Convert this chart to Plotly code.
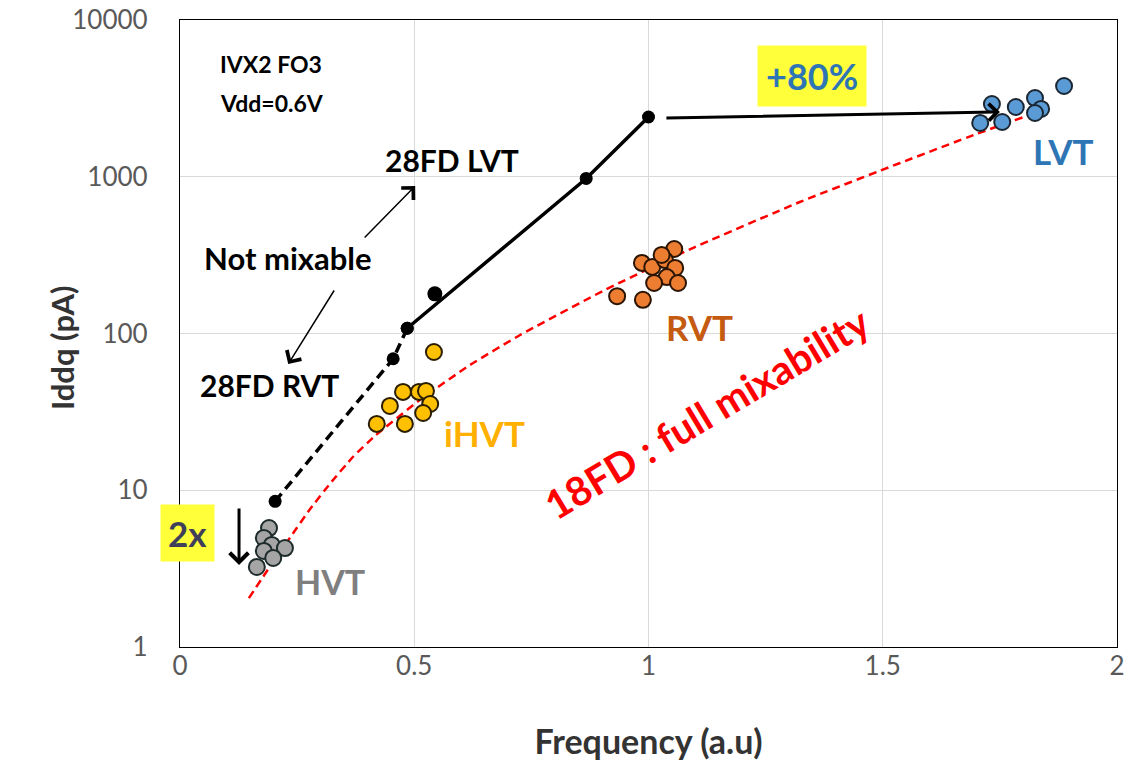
import plotly.graph_objects as go
import math

# ---- data ----
hvt_x = [0.190, 0.179, 0.196, 0.224, 0.179, 0.199, 0.164]
hvt_y = [5.74, 4.96, 4.48, 4.28, 4.10, 3.70, 3.24]

ihvt_x = [0.542, 0.476, 0.510, 0.525, 0.448, 0.534, 0.519, 0.420, 0.480]
ihvt_y = [76.2, 42.4, 42.4, 43.0, 34.5, 35.5, 31.1, 26.5, 26.5]

rvt_x = [0.986, 1.008, 1.055, 1.035, 1.028, 1.057, 1.039, 1.012, 1.063, 0.933, 0.988]
rvt_y = [282, 266, 346, 294, 317, 262, 229, 210, 210, 173, 164]

lvt_x = [1.733, 1.784, 1.825, 1.838, 1.825, 1.755, 1.708, 1.887]
lvt_y = [2911, 2786, 3177, 2706, 2551, 2235, 2203, 3793]

fd28_dash_x = [0.203, 0.455, 0.485]
fd28_dash_y = [8.5, 69, 108]
fd28_solid_x = [0.485, 0.867, 1.0]
fd28_solid_y = [108, 975, 2406]
fd28_extra_x = [0.544]
fd28_extra_y = [179]

fd18_x = [0.147, 0.192, 0.235, 0.277, 0.320, 0.369, 0.416, 0.512, 0.619, 0.726,
          0.903, 1.099, 1.323, 1.537, 1.697, 1.825, 1.853]
fd18_y = [2.05, 3.26, 4.99, 7.54, 11.0, 16.3, 22.2, 37.7, 63.0, 97.8,
          187, 356, 690, 1224, 1860, 2551, 2725]

x_ticks = [0, 0.5, 1, 1.5, 2]
x_tick_labels = ["0", "0.5", "1", "1.5", "2"]
y_ticks = [1, 10, 100, 1000, 10000]
y_tick_labels = ["1", "10", "100", "1000", "10000"]

FONT = "Lato"
L = math.log10

fig = go.Figure()

fig.add_trace(go.Scatter(x=fd18_x, y=fd18_y, mode="lines",
                         line=dict(color="#FF0000", width=2.5, dash="8px,5px",
                                   shape="spline", smoothing=0.4),
                         showlegend=False, hoverinfo="skip"))
fig.add_trace(go.Scatter(x=fd28_dash_x, y=fd28_dash_y, mode="lines+markers",
                         line=dict(color="black", width=3.5, dash="10px,6px"),
                         marker=dict(color="black", size=13),
                         showlegend=False))
fig.add_trace(go.Scatter(x=fd28_solid_x, y=fd28_solid_y, mode="lines+markers",
                         line=dict(color="black", width=3.5),
                         marker=dict(color="black", size=13),
                         showlegend=False))
fig.add_trace(go.Scatter(x=fd28_extra_x, y=fd28_extra_y, mode="markers",
                         marker=dict(color="black", size=15),
                         showlegend=False))

def cluster(xs, ys, fill, edge):
    fig.add_trace(go.Scatter(x=xs, y=ys, mode="markers",
                             marker=dict(color=fill, size=16,
                                         line=dict(color=edge, width=2)),
                             showlegend=False))

cluster(hvt_x, hvt_y, "#A5A5A5", "#1E2B2B")
cluster(ihvt_x, ihvt_y, "#FFC000", "#2B1E00")
cluster(rvt_x, rvt_y, "#ED7D31", "#2B1400")
cluster(lvt_x, lvt_y, "#5B9BD5", "#1B2633")

annotations = []

def text(t, x, y, size, color="black", bold=True, **kw):
    annotations.append(dict(text=("<b>%s</b>" % t) if bold else t, x=x, y=L(y),
                            xref="x", yref="y", showarrow=False,
                            font=dict(family=FONT, size=size, color=color), **kw))

def arrow(x0, y0, x1, y1, width, size):
    annotations.append(dict(text="", x=x1, y=L(y1), ax=x0, ay=L(y0),
                            xref="x", yref="y", axref="x", ayref="y",
                            showarrow=True, arrowhead=4, arrowwidth=width,
                            arrowsize=size, arrowcolor="black"))

text("IVX2 FO3", 0.194, 10 ** 3.72, 23)
text("Vdd=0.6V", 0.196, 10 ** 3.47, 23)
text("28FD LVT", 0.581, 10 ** 3.107, 30)
text("Not mixable", 0.230, 10 ** 2.482, 31)
text("28FD RVT", 0.192, 10 ** 1.671, 30)
text("+80%", 1.349, 10 ** 3.643, 36, color="#2E75B6", bgcolor="#FFFF3A", borderpad=8)
text("LVT", 1.885, 10 ** 3.164, 35, color="#2E75B6")
text("RVT", 1.108, 10 ** 2.041, 35, color="#C55A11")
text("iHVT", 0.649, 10 ** 1.365, 35, color="#FFB000")
text("HVT", 0.320, 10 ** 0.415, 34, color="#7F7F7F")
text("2x", 0.015, 10 ** 0.727, 35, color="#403F5A", bgcolor="#FFFF3A", borderpad=7)
text("18FD : full mixability", 1.125, 10 ** 1.493, 40, color="#FF0000", textangle=-31)

# y-axis title placed as a paper annotation to match the reference position
annotations.append(dict(text="<b>Iddq (pA)</b>", x=-0.1483, y=0.4769,
                        xref="paper", yref="paper", showarrow=False, textangle=-90,
                        font=dict(family=FONT, size=31, color="#333333")))

arrow(1.035, 10 ** 3.375, 1.750, 10 ** 3.413, 3, 1.1)
arrow(0.391, 10 ** 2.603, 0.502, 10 ** 2.941, 1.5, 2.2)
arrow(0.331, 10 ** 2.284, 0.231, 10 ** 1.805, 1.5, 2.2)
arrow(0.126, 10 ** 0.893, 0.126, 10 ** 0.523, 3, 1.2)

fig.update_layout(
    width=1124, height=767,
    margin=dict(l=180, r=7, t=20, b=120),
    paper_bgcolor="white", plot_bgcolor="white",
    font=dict(family=FONT, color="#595959"),
    annotations=annotations,
    showlegend=False,
)
fig.update_xaxes(range=[0, 2], tickvals=x_ticks, ticktext=x_tick_labels,
                 automargin=False, ticklabeloverflow="allow", ticklabelstandoff=-4,
                 showgrid=True, gridcolor="#D9D9D9", gridwidth=1,
                 showline=True, linecolor="black", linewidth=1.2, mirror=True,
                 zeroline=False, ticks="", tickfont=dict(size=26, color="#595959"),
                 title=dict(text="<b>Frequency (a.u)</b>",
                            font=dict(size=34, color="#333333"), standoff=49))
fig.update_yaxes(type="log", range=[0, 4], tickvals=y_ticks, ticktext=y_tick_labels,
                 automargin=False, ticklabeloverflow="allow",
                 showgrid=True, gridcolor="#D9D9D9", gridwidth=1,
                 showline=True, linecolor="black", linewidth=1.2, mirror=True,
                 zeroline=False, ticks="", ticklabelstandoff=26,
                 tickfont=dict(size=26, color="#595959"))

fig.write_html("out.html")
